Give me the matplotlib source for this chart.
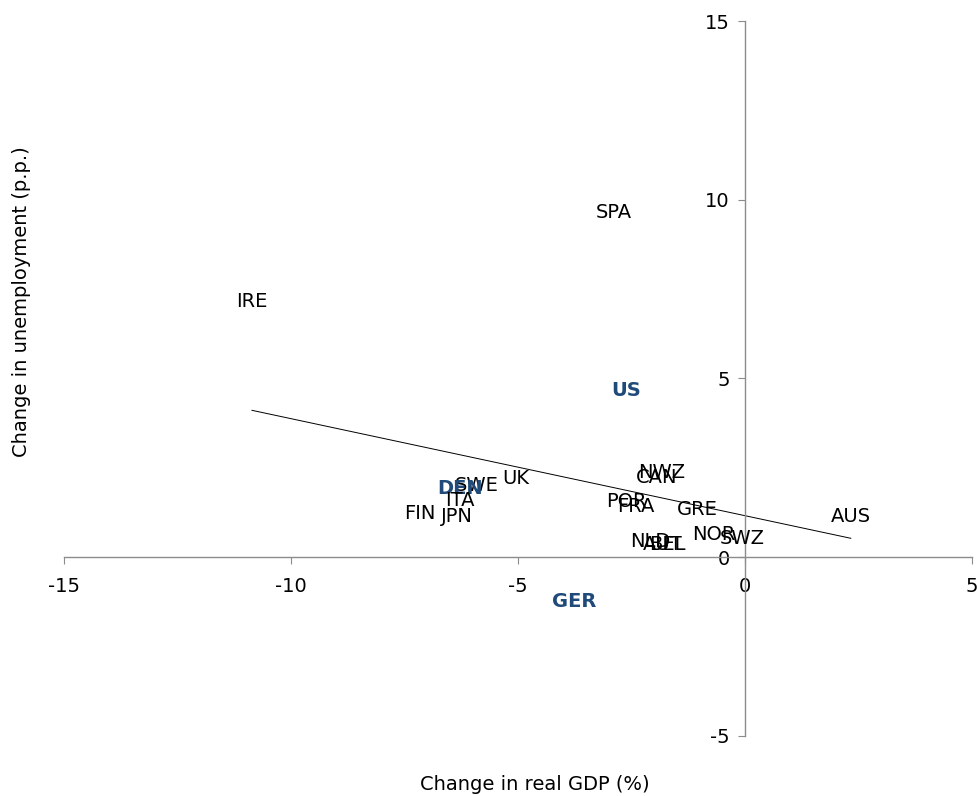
import matplotlib.pyplot as plt
import numpy as np

plt.rcParams["axes.unicode_minus"] = False

# Countries: change in real GDP (%) vs change in unemployment (p.p.)
countries = ["SPA", "IRE", "US", "NWZ", "CAN", "UK", "SWE", "DEN", "ITA", "FIN",
             "JPN", "POR", "FRA", "GRE", "NOR", "SWZ", "NLD", "AUT", "BEL", "AUS", "GER"]
gdp_change = [-2.89, -10.86, -2.62, -1.83, -1.94, -5.04, -5.90, -6.28, -6.28, -7.16,
              -6.34, -2.62, -2.40, -1.06, -0.68, -0.07, -2.09, -1.82, -1.72, 2.33, -3.77]
unemp_change = [9.65, 7.16, 4.67, 2.38, 2.24, 2.21, 2.01, 1.93, 1.59, 1.23,
                1.15, 1.57, 1.43, 1.34, 0.64, 0.53, 0.45, 0.37, 0.37, 1.15, -1.23]
highlight = ["US", "DEN", "GER"]

# trend line drawn between the extremes of the x range
trend_x = [-10.86, 2.33]
trend_y = [4.11, 0.53]

navy = "#1f4a7a"
grey = "#8c8c8c"
fs = 14

fig = plt.figure(figsize=(9.77, 7.96), dpi=100)
ax = fig.add_axes([0.0655, 0.0754, 0.9294, 0.8982])

for name, x, y in zip(countries, gdp_change, unemp_change):
    if name in highlight:
        ax.text(x, y, name, ha="center", va="center", fontsize=fs,
                color=navy, fontweight="bold")
    else:
        ax.text(x, y, name, ha="center", va="center", fontsize=fs, color="black")

ax.plot(trend_x, trend_y, color="black", lw=0.7)

ax.set_xlim(-15, 5)
ax.set_ylim(-5, 15)
ax.set_xticks([-15, -10, -5, 0, 5])
ax.set_yticks([-5, 0, 5, 10, 15])

ax.spines["left"].set_position(("data", 0))
ax.spines["bottom"].set_position(("data", 0))
ax.spines["right"].set_visible(False)
ax.spines["top"].set_visible(False)
for s in ["left", "bottom"]:
    ax.spines[s].set_color(grey)
    ax.spines[s].set_linewidth(1.0)

ax.tick_params(axis="both", direction="out", length=5, color=grey,
               labelsize=fs, labelcolor="black")
ax.tick_params(axis="x", pad=9)
ax.tick_params(axis="y", pad=6)

fig.text(535 / 977, 1 - 785 / 796, "Change in real GDP (%)", ha="center",
         va="center", fontsize=fs)
fig.text(22 / 977, 1 - 302 / 796, "Change in unemployment (p.p.)", ha="center",
         va="center", rotation=90, fontsize=fs)

fig.savefig("out.png", dpi=100)
